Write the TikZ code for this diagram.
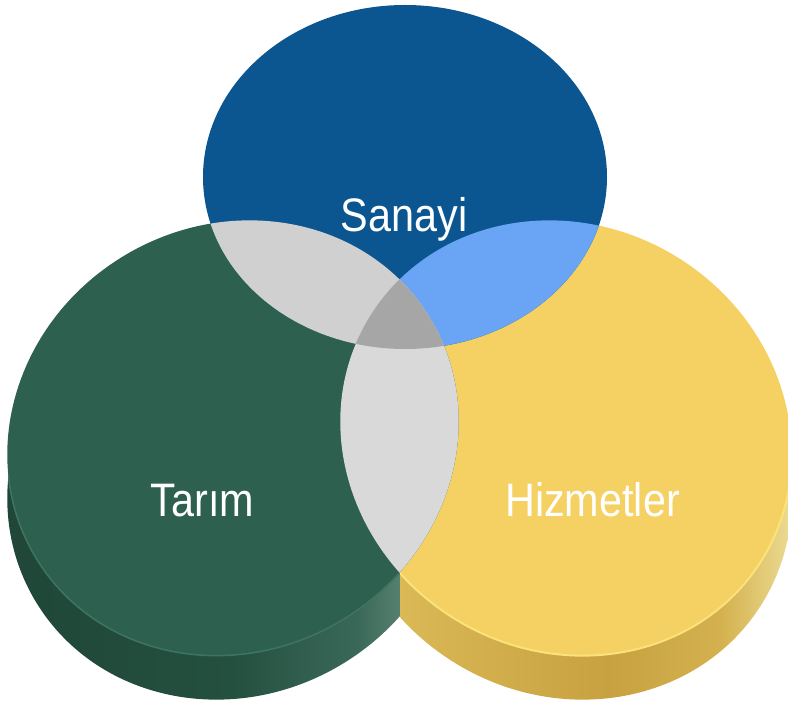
\documentclass[tikz,border=0pt]{standalone}
\usepackage{fontspec}
\setmainfont{Liberation Sans}
\definecolor{sanayiblue}{HTML}{0B5691}
\definecolor{tarimgreen}{HTML}{2D604F}
\definecolor{hizmetyellow}{HTML}{F5D062}
\definecolor{lensgray}{HTML}{D0D0D0}
\definecolor{lenslight}{HTML}{D9D9D9}
\definecolor{lensblue}{HTML}{6AA5F5}
\definecolor{lensdark}{HTML}{A6A6A6}
\definecolor{tarimdark}{HTML}{1F4537}
\definecolor{tarimside}{HTML}{24503F}
\definecolor{tarimmid}{HTML}{3A6858}
\definecolor{tarimshine}{HTML}{5B8474}
\definecolor{tarimrim}{HTML}{3F7462}
\definecolor{hizmetlight}{HTML}{DCBC58}
\definecolor{hizmetside}{HTML}{C8A140}
\definecolor{hizmetshine}{HTML}{ECDC94}
\definecolor{hizmetend}{HTML}{B8983E}
\definecolor{hizmetrim}{HTML}{FBE27A}
\pgfdeclarehorizontalshading{tarimshade}{100bp}{color(0bp)=(tarimdark); color(25bp)=(tarimdark); color(50bp)=(tarimside); color(62bp)=(tarimmid); color(67bp)=(tarimshine); color(69bp)=(tarimmid); color(75bp)=(tarimmid); color(100bp)=(tarimmid)}
\pgfdeclarehorizontalshading{hizmetshade}{100bp}{color(0bp)=(hizmetlight); color(32bp)=(hizmetlight); color(38bp)=(hizmetlight!70!hizmetside); color(54bp)=(hizmetside); color(65bp)=(hizmetlight!60!hizmetside); color(72bp)=(hizmetshine); color(74.5bp)=(hizmetend); color(100bp)=(hizmetend)}
\newcommand{\sanayiface}{(S) ellipse [x radius=202, y radius=172]}
\newcommand{\tarimface}{(T) ellipse [x radius=230.7, y radius=212.3, rotate=32]}
\newcommand{\tarimbase}{(Tb) ellipse [x radius=230.7, y radius=212.3, rotate=32]}
\newcommand{\hizmetface}{(H) ellipse [x radius=230.7, y radius=212.3, rotate=-32]}
\newcommand{\hizmetbase}{(Hb) ellipse [x radius=230.7, y radius=212.3, rotate=-32]}
\begin{document}
\begin{tikzpicture}[x=1pt,y=1pt,
    disklabel/.style={text=white, font=\fontsize{47}{50}\selectfont, xscale=0.88, inner sep=0pt, anchor=base}]
    \useasboundingbox (0,0) rectangle (788,702);
    \coordinate (S) at (405,525);
    \coordinate (T) at (233,264);
    \coordinate (H) at (566,264);
    \coordinate (Tb) at (233,220);
    \coordinate (Hb) at (566,220);
    % sides of the disks
    \begin{scope}
        \clip (0,0) rectangle (400,702);
        \shade[shading=tarimshade] \tarimbase;
    \end{scope}
    \begin{scope}
        \clip (400,0) rectangle (788,702);
        \shade[shading=hizmetshade] \hizmetbase;
    \end{scope}
    % top faces
    \fill[hizmetyellow] \hizmetface;
    \fill[tarimgreen] \tarimface;
    \fill[sanayiblue] \sanayiface;
    \begin{scope}
        \clip (0,0) rectangle (400,702);
        \clip \tarimbase;
        \draw[tarimrim, line width=1.5] \tarimface;
    \end{scope}
    \begin{scope}
        \clip (400,0) rectangle (788,702);
        \clip \hizmetbase;
        \draw[hizmetrim, line width=2] \hizmetface;
    \end{scope}
    % overlaps
    \begin{scope}
        \clip \tarimface;
        \fill[lensgray] \sanayiface;
    \end{scope}
    \begin{scope}
        \clip \hizmetface;
        \fill[lensblue] \sanayiface;
    \end{scope}
    \begin{scope}
        \clip \tarimface;
        \fill[lenslight] \hizmetface;
    \end{scope}
    \begin{scope}
        \clip \tarimface;
        \clip \hizmetface;
        \fill[lensdark] \sanayiface;
    \end{scope}
    \node[disklabel] (sanayi) at (404,470) {Sanayi};
    \node[disklabel] (tarim) at (202.5,185) {Tarım};
    \node[disklabel] (hizmetler) at (592.5,185) {Hizmetler};
\end{tikzpicture}
\end{document}
